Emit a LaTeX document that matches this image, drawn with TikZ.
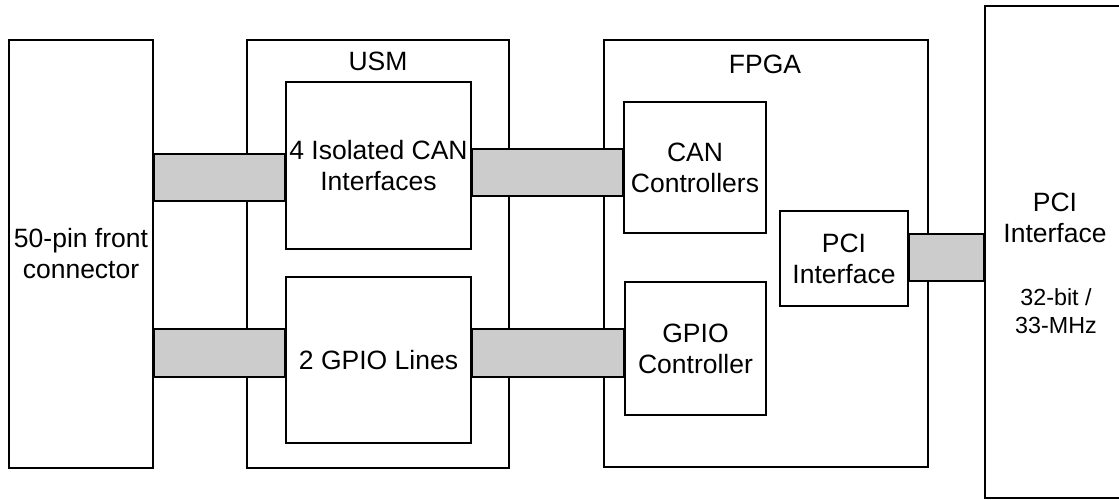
\documentclass[tikz,border=0pt]{standalone}
\usepackage{fontspec}
\setmainfont{Liberation Sans}
\newcommand\blocktext{\fontsize{26.5}{31}\selectfont}
\newcommand\notetext{\fontsize{23.3}{28}\selectfont}
\definecolor{bandgray}{HTML}{CCCCCC}
\begin{document}
\begin{tikzpicture}[x=1pt, y=-1pt, line width=2pt,
  blk/.style={draw=black, fill=white, align=center, inner sep=0pt,
              font=\blocktext},
  txt/.style={inner sep=0pt, align=center, font=\blocktext},
  band/.style={draw=black, fill=bandgray}]
\useasboundingbox (0,0) rectangle (1119,500);

% enclosing blocks
\node[blk, minimum width=144pt, minimum height=428pt] (conn) at (81,254)
  {50-pin front\\connector};
\node[blk, minimum width=262pt, minimum height=428pt] (usm) at (378,254) {};
\node[blk, minimum width=324pt, minimum height=427pt] (fpga) at (766,253.5) {};
\node[blk, minimum width=200pt, minimum height=492pt, anchor=west] (pcibus)
  at (984,252) {};

\node[txt] (usmlabel) at (378,61) {USM};
\node[txt] (fpgalabel) at (765,64) {FPGA};
\node[txt] (pcibuslabel) at (1055,218) {PCI\\Interface};
\node[txt, font=\notetext] (pcibusnote) at (1056,311) {32-bit /\\33-MHz};

% functional blocks
\node[blk, minimum width=185pt, minimum height=167pt] (canif) at (378.5,165.5)
  {4 Isolated CAN\\Interfaces};
\node[blk, minimum width=185pt, minimum height=166pt] (gpiol) at (378.5,360)
  {2 GPIO Lines};
\node[blk, minimum width=142pt, minimum height=131pt] (canc) at (695,167.5)
  {CAN\\Controllers};
\node[blk, minimum width=141pt, minimum height=133pt] (gpioc) at (695.5,348.5)
  {GPIO\\Controller};
\node[blk, minimum width=128pt, minimum height=95pt] (pcii) at (844,258.5)
  {PCI\\Interface};

% buses between blocks, laid over the enclosing outlines
\draw[band] (conn.east |- 0,154) rectangle (canif.west |- 0,201);
\draw[band] (canif.east |- 0,149) rectangle (canc.west |- 0,196);
\draw[band] (conn.east |- 0,329) rectangle (gpiol.west |- 0,377);
\draw[band] (gpiol.east |- 0,329) rectangle (gpioc.west |- 0,377);
\draw[band] (pcii.east |- 0,234) rectangle (pcibus.west |- 0,281);
\end{tikzpicture}
\end{document}
